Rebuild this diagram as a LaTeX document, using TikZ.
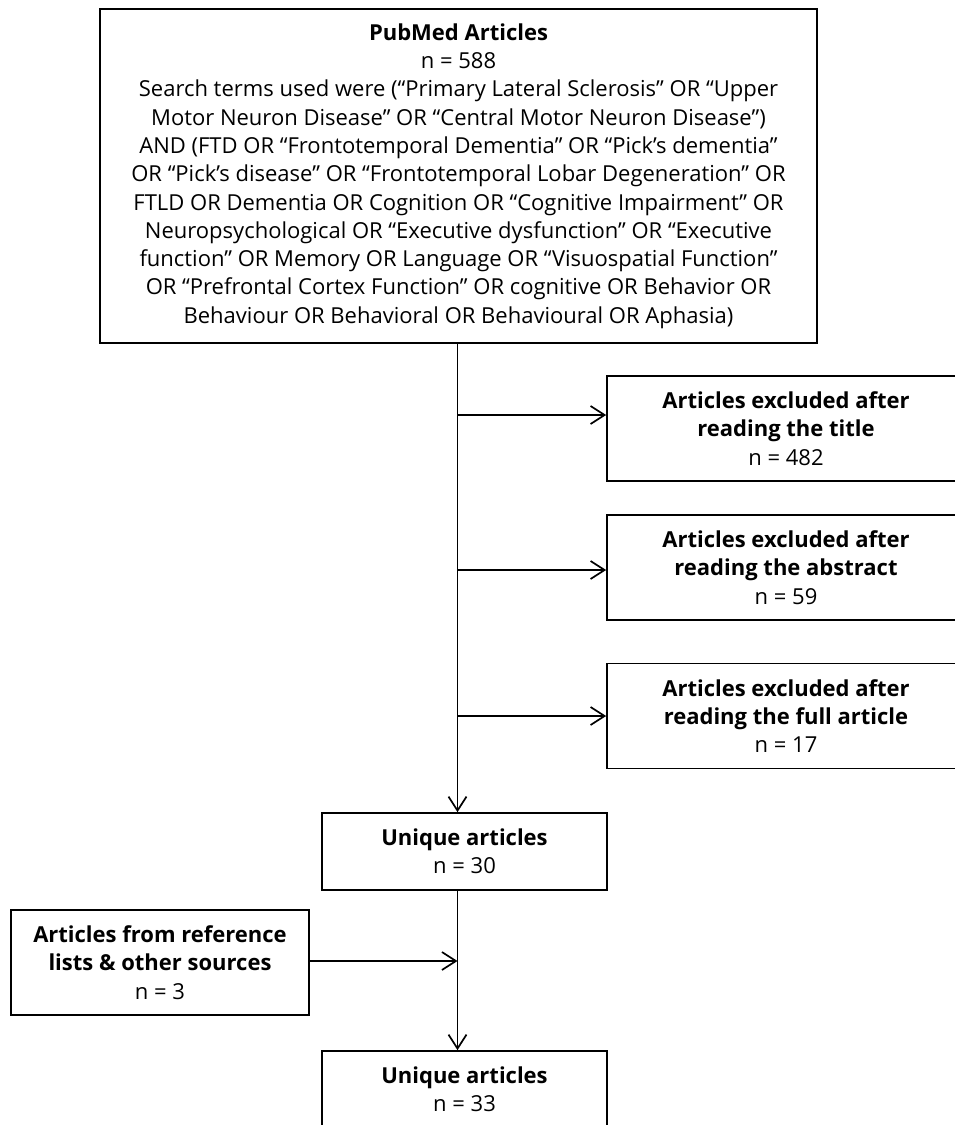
\documentclass[tikz,border=0pt]{standalone}
\usepackage{fontspec}
\setmainfont{Open Sans}
\usetikzlibrary{arrows.meta,positioning,calc}
\tikzset{
  pbox/.style={
    draw, line width=1.7pt, align=center, inner sep=0pt,
    font=\fontsize{22}{28.3}\selectfont
  },
  exbox/.style={pbox, minimum width=358pt, minimum height=105pt},
  ubox/.style ={pbox, minimum width=285pt, minimum height=77pt},
  parr/.style={
    -{Straight Barb[length=14pt,width=18pt,line width=1.7pt]},
    line width=1.7pt
  }
}
\begin{document}
\begin{tikzpicture}[x=1pt,y=-1pt]
  \useasboundingbox (0,0) rectangle (954,1125);
  % search box
  \node[pbox, minimum width=717pt, minimum height=334pt] (pubmed) at (458.5,176)
    {\textbf{PubMed Articles}\\ n = 588\\
     Search terms used were (“Primary Lateral Sclerosis” OR “Upper\\
     Motor Neuron Disease” OR “Central Motor Neuron Disease”)\\
     AND (FTD OR “Frontotemporal Dementia” OR “Pick’s dementia”\\
     OR “Pick’s disease” OR “Frontotemporal Lobar Degeneration” OR\\
     FTLD OR Dementia OR Cognition OR “Cognitive Impairment” OR\\
     Neuropsychological OR “Executive dysfunction” OR “Executive\\
     function” OR Memory OR Language OR “Visuospatial Function”\\
     OR “Prefrontal Cortex Function” OR cognitive OR Behavior OR\\
     Behaviour OR Behavioral OR Behavioural OR Aphasia)};
  % exclusions
  \node[exbox] (extitle)    at (786,428.5) {\textbf{Articles excluded after}\\ \textbf{reading the title}\\ n = 482};
  \node[exbox] (exabstract) at (786,567.5) {\textbf{Articles excluded after}\\ \textbf{reading the abstract}\\ n = 59};
  \node[exbox] (exfull)     at (786,716)   {\textbf{Articles excluded after}\\ \textbf{reading the full article}\\ n = 17};
  % results
  \node[ubox] (unique1) at (464.5,851.5) {\textbf{Unique articles}\\ n = 30};
  \node[pbox, minimum width=298pt, minimum height=105pt] (refs) at (160,962.5)
    {\textbf{Articles from reference}\\ \textbf{lists \& other sources}\\ n = 3};
  \node[ubox] (unique2) at (464.5,1089.5) {\textbf{Unique articles}\\ n = 33};
  % connectors
  \coordinate (top) at (457.5,0 |- pubmed.south);
  \coordinate (j1) at (457.5,415);
  \coordinate (j2) at (457.5,570);
  \coordinate (j3) at (457.5,716);
  \coordinate (j4) at (457.5,961);
  \draw[parr] (top) -- (top |- unique1.north);
  \draw[parr] (j1) -- (j1 -| extitle.west);
  \draw[parr] (j2) -- (j2 -| exabstract.west);
  \draw[parr] (j3) -- (j3 -| exfull.west);
  \draw[parr] (top |- unique1.south) -- (top |- unique2.north);
  \draw[parr] (j4 -| refs.east) -- (j4);
\end{tikzpicture}
\end{document}
